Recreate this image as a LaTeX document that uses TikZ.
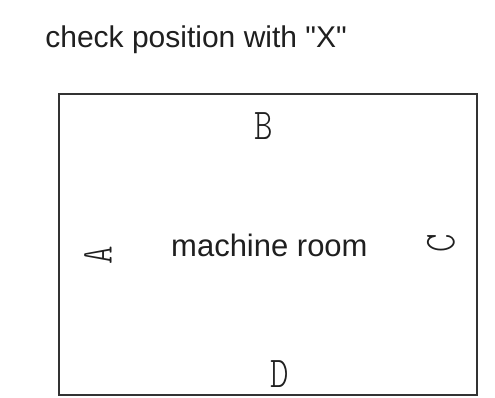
\documentclass[tikz,border=0pt]{standalone}
\usepackage{fontspec}
\usepackage{graphicx}
\newfontfamily\arialfont{Liberation Sans}
\newfontfamily\lmlight{Latin Modern Mono Light}
\begin{document}
\begin{tikzpicture}[x=1pt,y=-1pt,
  label/.style={font=\arialfont\fontsize{31}{36}\selectfont, text=black!88, inner sep=0},
  letter/.style={font=\lmlight\fontsize{44}{44}\selectfont, text=black!88, inner sep=0},
  room/.style={draw=black!80, line width=2pt, minimum width=418pt, minimum height=301pt, inner sep=0}]
\useasboundingbox (0,0) rectangle (495,398);
\node[room] (box) at (268,244.5) {};
\node[label, font=\arialfont\fontsize{30}{36}\selectfont, anchor=base east] (title) at (347,48) {check position with "X"};
\node[label, anchor=base west] (mr) at (171,256) {machine room};
\node[letter] (B) at (264,126) {\scalebox{0.8}[1]{B}};
\node[letter] (D) at (280,374) {\scalebox{0.8}[1]{D}};
\node[letter, rotate=90] (A) at (98,255) {\scalebox{0.8}[1]{A}};
\node[letter, rotate=90] (C) at (441,243) {\scalebox{0.8}[1]{C}};
\end{tikzpicture}
\end{document}
